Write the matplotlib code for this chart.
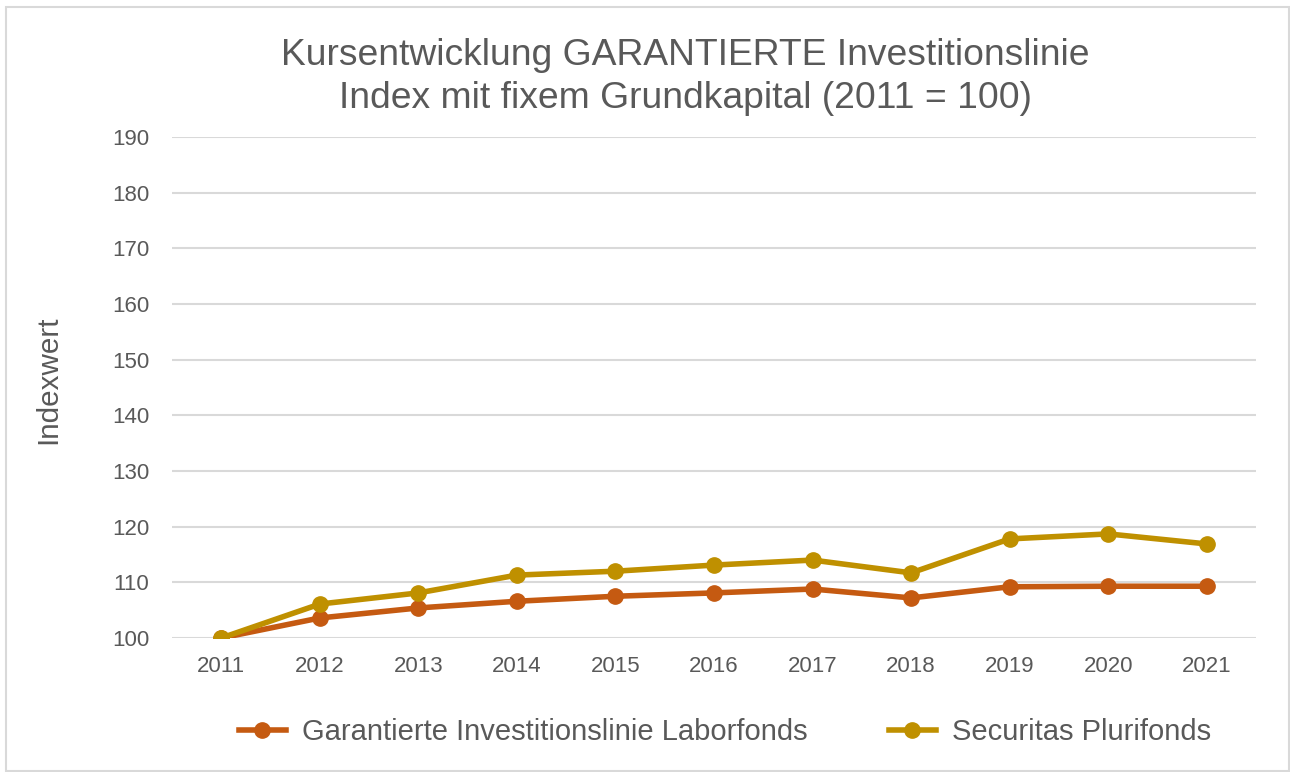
import matplotlib.pyplot as plt
from matplotlib.patches import Rectangle

plt.rcParams['font.family'] = ['Liberation Sans', 'DejaVu Sans']

years = ['2011', '2012', '2013', '2014', '2015', '2016', '2017', '2018', '2019', '2020', '2021']
laborfonds = [100, 103.6, 105.4, 106.6, 107.5, 108.1, 108.8, 107.2, 109.2, 109.3, 109.3]
plurifonds = [100, 106.1, 108.1, 111.3, 112.0, 113.1, 114.0, 111.7, 117.8, 118.7, 116.9]
yticks = [100, 110, 120, 130, 140, 150, 160, 170, 180, 190]

txt = '#595959'
grid = '#d9d9d9'

fig = plt.figure(figsize=(12.9, 7.72), dpi=100)
ax = fig.add_axes([172/1290, 1 - 638/772, (1256 - 172)/1290, (638 - 137)/772])

x = range(len(years))
ax.plot(x, laborfonds, color='#c55a11', lw=4, marker='o', ms=11,
        label='Garantierte Investitionslinie Laborfonds', zorder=3)
ax.plot(x, plurifonds, color='#bf9000', lw=4, marker='o', ms=11,
        label='Securitas Plurifonds', zorder=4)

ax.set_xlim(-0.5, len(years) - 0.5)
ax.set_ylim(100, 190)
ax.set_yticks(yticks)
ax.set_xticks(list(x))
ax.set_xticklabels(years)
for y in yticks:
    ax.axhline(y, color=grid, lw=1.5, zorder=1)
for s in ax.spines.values():
    s.set_visible(False)
ax.tick_params(length=0, labelsize=16, labelcolor=txt)
ax.tick_params(axis='y', pad=16.5)
ax.tick_params(axis='x', pad=13)

ax.set_ylabel('Indexwert', fontsize=21.3, color=txt)
ax.yaxis.set_label_coords(-0.101, 0.515)

fig.suptitle('Kursentwicklung GARANTIERTE Investitionslinie\nIndex mit fixem Grundkapital (2011 = 100)',
             x=685/1290, y=1 - 38/772, va='top', fontsize=26.8, color=txt, linespacing=1.3)

leg = fig.legend(loc='center', bbox_to_anchor=(725/1290, 1 - 732/772), ncol=2, frameon=False,
                 fontsize=21, handlelength=1.6, handletextpad=0.55, columnspacing=2.8)
for t in leg.get_texts():
    t.set_color(txt)

fig.patches.append(Rectangle((6/1290, 1/772), 1283/1290, 764/772, transform=fig.transFigure,
                             fill=False, edgecolor=grid, lw=1.5))

fig.savefig('out.png', dpi=100)
